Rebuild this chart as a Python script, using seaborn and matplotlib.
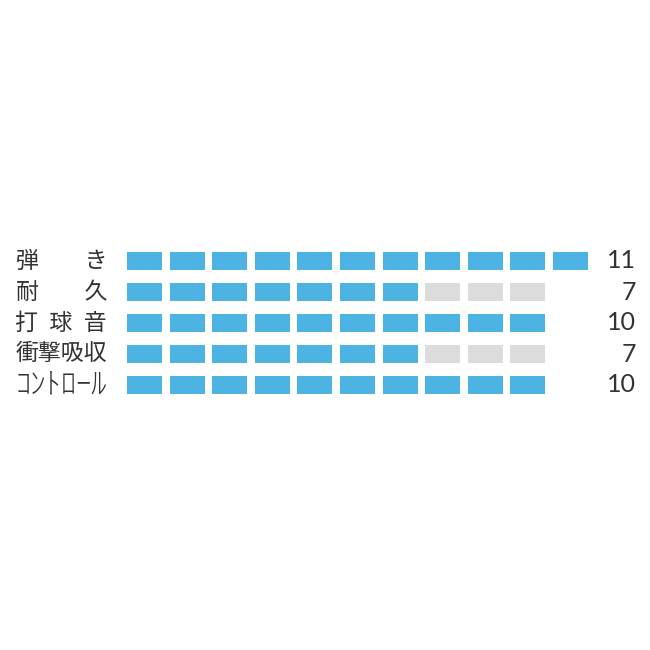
import matplotlib
matplotlib.use("Agg")
import matplotlib.pyplot as plt
import seaborn as sns
import pandas as pd

# ---- data ----
labels = ["弾\u3000\u3000き", "耐\u3000\u3000久", "打\u2002球\u2002音", "衝撃吸収", "ｺﾝﾄﾛｰﾙ"]
label_sizes = [16.5, 16.5, 16.5, 16.5, 22]
label_weights = ["normal", "normal", "normal", "normal", "light"]
values = [11, 7, 10, 7, 10]
scale_max = 10
value_labels = ["11", "7", "10", "7", "10"]

# long-format table of blocks
rows = []
for r, (lab, v) in enumerate(zip(labels, values)):
    n = max(v, scale_max)
    for k in range(n):
        rows.append({"row": r, "block": k, "filled": k < v})
df = pd.DataFrame(rows)

sns.set_theme(style="white")
plt.rcParams["font.family"] = ["Noto Sans CJK JP", "DejaVu Sans"]

BLUE = "#4db3e2"
GRAY = "#dcdcdc"

fig = plt.figure(figsize=(6.5, 6.5), dpi=100)
ax = fig.add_axes([0, 0, 1, 1])

pitch_x, pitch_y = 42.6, 31.0
x0, y0 = 127.0, 261.0
ax.set_xlim(-x0 / pitch_x, (650 - x0) / pitch_x)
ax.set_ylim((650 - y0) / pitch_y, -y0 / pitch_y)
ax.axis("off")

colors = [BLUE if f else GRAY for f in df["filled"]]
ax.barh(df["row"], width=35 / pitch_x, left=df["block"], height=18 / pitch_y,
        color=colors, align="center", linewidth=0)

lab_x = (107 - x0) / pitch_x
num_x = (636 - x0) / pitch_x
for r, lab in enumerate(labels):
    ax.text(lab_x, r, lab, ha="right", va="center", fontsize=label_sizes[r],
            fontweight=label_weights[r],
            color="#333333", family=["Noto Sans CJK JP", "DejaVu Sans"])
for r, vl in enumerate(value_labels):
    ax.text(num_x, r, vl, ha="right", va="center", fontsize=18,
            color="#333333", family=["Lato", "DejaVu Sans"], fontweight="normal")

fig.savefig("out.png", dpi=100, facecolor="white")
